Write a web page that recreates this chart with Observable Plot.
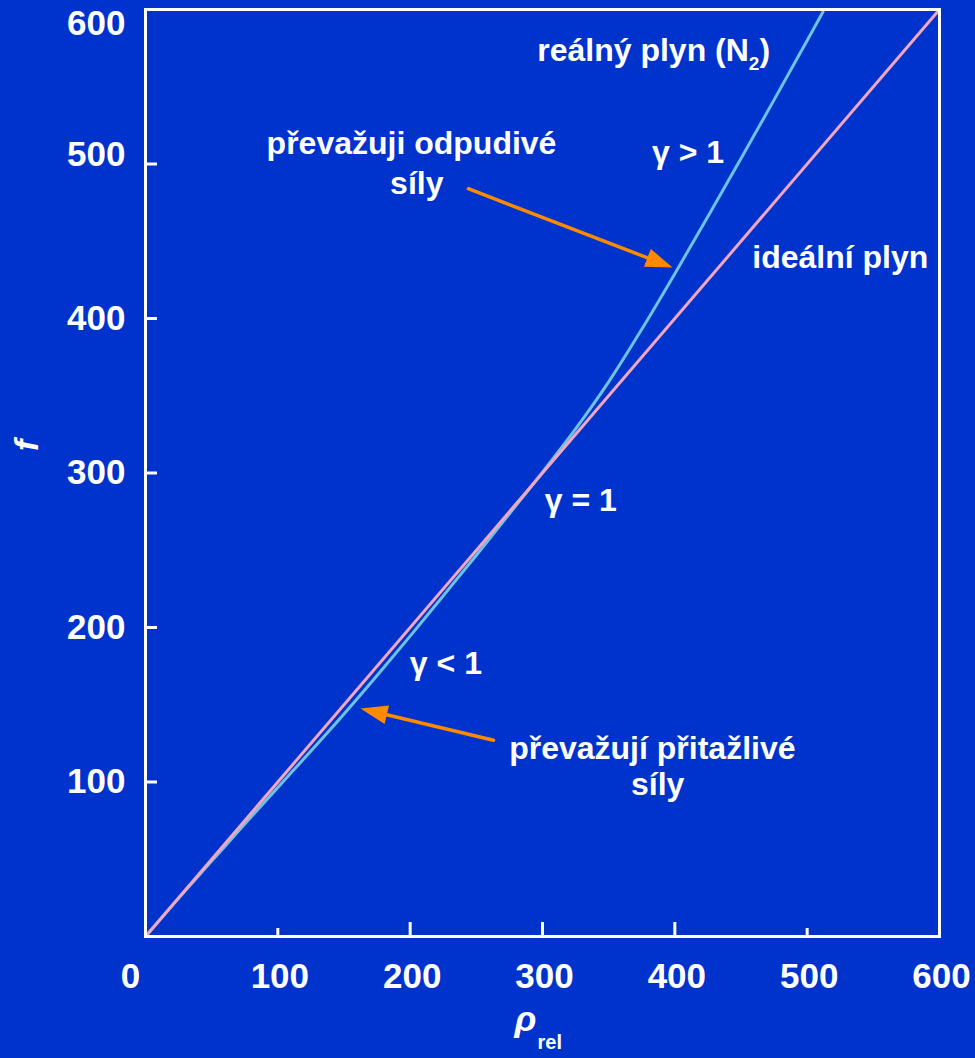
<!DOCTYPE html>
<html>
<head>
<meta charset="utf-8">
<script src="https://cdn.jsdelivr.net/npm/d3@7"></script>
<script src="https://cdn.jsdelivr.net/npm/@observablehq/plot@0.6"></script>
<style>
  html, body { margin: 0; padding: 0; background: #0033cc; }
  #chart svg { display: block; }
</style>
</head>
<body>
<div id="chart"></div>
<script>
// ---- data ----
const idealP = [0, 600];
const idealF = [0, 600];

const realP = [0, 25, 50, 75, 100, 125, 150, 175, 200, 225, 250, 275, 300, 325, 350, 375, 400, 425, 450, 475, 500, 512];
const realF = [0, 24.8, 48.8, 72.8, 96.5, 120, 144, 168.9, 194.4, 220.5, 246.8, 273.6, 300.5, 328.5, 359, 393, 429, 466, 503.5, 541.5, 580, 598.5];

const xTickLong = [200, 300, 400];
const xTickShort = [100, 500];
const xLabels = [100, 200, 300, 400, 500, 600];
const xZeroLabel = [0];
const yTicks = [100, 200, 300, 400, 500];
const yLabels = [100, 200, 300, 400];
const yLabel500 = [500];
const yLabel600 = [600];

const noteText = ["reálný plyn (N₂)", "převažuji odpudivé", "síly", "γ > 1", "ideální plyn", "γ = 1", "γ < 1", "převažují přitažlivé", "síly"];
const noteX = [384, 201, 205, 410, 525, 329, 227, 383, 387];
const noteY = [573.5, 513.4, 487.5, 507.5, 439.6, 282.3, 176.8, 121.8, 97.9];

const arrowX1 = [244, 263];
const arrowY1 = [484, 127];
const arrowX2 = [398.3, 162.5];
const arrowY2 = [433, 147.6];

// ---- layout ----
const W = 975, H = 1058;
const mTop = 9, mRight = 36, mBottom = 122, mLeft = 145;
const plotW = W - mLeft - mRight, plotH = H - mTop - mBottom;
const xDomain = [0, 600], yDomain = [0, 600];

const FONT = "'Liberation Sans', Arial, Helvetica, sans-serif";
const BG = "#0033cc";
const PINK = "#f2a6c4";
const BLUE = "#6cc3e6";
const ORANGE = "#ff8a00";

const real = realP.map((p, i) => ({p, f: realF[i]}));
const ideal = idealP.map((p, i) => ({p, f: idealF[i]}));
const notes = noteText.map((t, i) => ({t, x: noteX[i], y: noteY[i]}));

const xS = Plot.scale({x: {domain: xDomain, range: [mLeft, W - mRight]}});
const yS = Plot.scale({y: {domain: yDomain, range: [H - mBottom, mTop]}});
const arrows = arrowX1.map((x1, i) => {
  const dxp = xS.apply(arrowX2[i]) - xS.apply(x1);
  const dyp = yS.apply(arrowY2[i]) - yS.apply(arrowY1[i]);
  return {x1, y1: arrowY1[i], x2: arrowX2[i], y2: arrowY2[i], rot: Math.atan2(dxp, -dyp) * 180 / Math.PI};
});

const headSymbol = {
  draw(ctx, size) {
    const L = 27, w = 9.5;
    ctx.moveTo(0, 0);
    ctx.lineTo(w, L);
    ctx.lineTo(-w, L);
    ctx.closePath();
  }
};

const plot = Plot.plot({
  width: W,
  height: H,
  marginTop: mTop,
  marginRight: mRight,
  marginBottom: mBottom,
  marginLeft: mLeft,
  style: {background: BG, color: "white", fontFamily: FONT},
  x: {domain: xDomain},
  y: {domain: yDomain},
  marks: [
    Plot.line(real, {x: "p", y: "f", stroke: BLUE, strokeWidth: 3, curve: "monotone-x"}),
    Plot.line(ideal, {x: "p", y: "f", stroke: PINK, strokeWidth: 3}),
    Plot.frame({stroke: "white", strokeWidth: 3}),
    Plot.tickY(yTicks, {y: d => d, stroke: "white", strokeWidth: 3, insetRight: plotW - 12}),
    Plot.tickX(xTickLong, {x: d => d, stroke: "white", strokeWidth: 3, insetTop: plotH - 14}),
    Plot.tickX(xTickShort, {x: d => d, stroke: "white", strokeWidth: 3, insetTop: plotH - 8}),
    Plot.axisY(yLabels, {tickSize: 0, tickPadding: 20, fontSize: 35, fontWeight: "bold", label: null}),
    Plot.axisY(yLabel500, {tickSize: 0, tickPadding: 20, fontSize: 35, fontWeight: "bold", label: null, dy: -9}),
    Plot.axisY(yLabel600, {tickSize: 0, tickPadding: 20, fontSize: 35, fontWeight: "bold", label: null, dy: 14}),
    Plot.axisX(xLabels, {tickSize: 0, tickPadding: 27, fontSize: 35, fontWeight: "bold", label: null, dx: 2}),
    Plot.axisX(xZeroLabel, {tickSize: 0, tickPadding: 27, fontSize: 35, fontWeight: "bold", label: null, dx: -15}),
    Plot.text(["f"], {frameAnchor: "left", rotate: -90, dx: -118, dy: -22, fontSize: 34, fontStyle: "italic", fontWeight: "bold", fill: "white"}),
    Plot.text(["ρ"], {frameAnchor: "bottom", dx: -17, dy: 94, fontSize: 36, fontStyle: "italic", fontWeight: "bold", fill: "white"}),
    Plot.text(["rel"], {frameAnchor: "bottom", textAnchor: "start", dx: -5, dy: 112, fontSize: 20, fontWeight: "bold", fill: "white"}),
    Plot.text(notes, {x: "x", y: "y", text: "t", fontSize: 32, fontWeight: "bold", fill: "white"}),
    Plot.arrow(arrows, {x1: "x1", y1: "y1", x2: "x2", y2: "y2", stroke: ORANGE, strokeWidth: 3.5, headLength: 0, insetEnd: 14}),
    Plot.dot(arrows, {x: "x2", y: "y2", rotate: "rot", symbol: headSymbol, r: 5, fill: ORANGE, stroke: null})
  ]
});

d3.select(plot).selectAll("text").each(function() {
  const t = this.textContent;
  if (t.includes("₂") && this.children.length === 0) {
    const parts = t.split("₂");
    const sel = d3.select(this);
    sel.text(null);
    sel.append("tspan").text(parts[0]);
    sel.append("tspan").attr("font-size", 19).attr("dy", 9).text("2");
    sel.append("tspan").attr("dy", -9).text(parts[1]);
  }
});

document.getElementById("chart").appendChild(plot);
</script>
</body>
</html>
